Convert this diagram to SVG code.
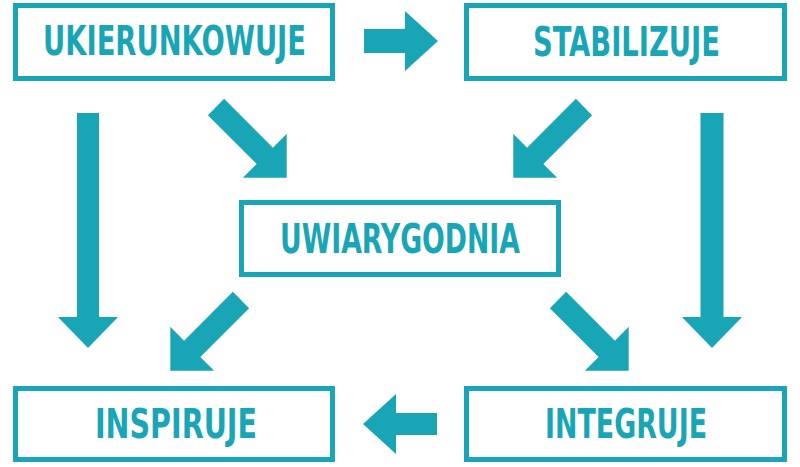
<svg xmlns="http://www.w3.org/2000/svg" width="800" height="467" viewBox="0 0 800 467">
<style>
.box{fill:#ffffff;stroke:#18a6b6;stroke-width:5}
.lbl{fill:#18a6b6;font-family:"DejaVu Sans Condensed","DejaVu Sans","Liberation Sans",sans-serif;font-weight:bold;font-size:40px;text-anchor:middle}
.arr{fill:#18a6b6}
</style>
<rect width="800" height="467" fill="#ffffff"/>
<g id="connectors">
<polygon class="arr" points="364,29 405,29 405,11 438,41 405,71 405,53 364,53"/>
<polygon class="arr" points="77,113 99,113 99,317 118,317 88,348 58,317 77,317"/>
<polygon class="arr" points="700.5,113 723.5,113 723.5,317 742,317 712,348 682,317 700.5,317"/>
<polygon class="arr" points="437,413 396,413 396,394 363,424 396,454 396,435 437,435"/>
<polygon class="arr" points="0,-11.5 69,-11.5 69,-31 100,0 69,31 69,11.5 0,11.5" transform="translate(216,107) rotate(45)"/>
<polygon class="arr" points="0,-11.5 69,-11.5 69,-31 100,0 69,31 69,11.5 0,11.5" transform="translate(584,107) rotate(135)"/>
<polygon class="arr" points="0,-11.5 69,-11.5 69,-31 100,0 69,31 69,11.5 0,11.5" transform="translate(241,300) rotate(135)"/>
<polygon class="arr" points="0,-11.5 69,-11.5 69,-31 100,0 69,31 69,11.5 0,11.5" transform="translate(558,300) rotate(45)"/>
</g>
<g id="ukierunkowuje">
<rect class="box" x="15.5" y="5.5" width="317" height="73"/>
<text class="lbl" x="174.5" y="55" textLength="263" lengthAdjust="spacingAndGlyphs">UKIERUNKOWUJE</text>
</g>
<g id="stabilizuje">
<rect class="box" x="466.5" y="5.5" width="318" height="73"/>
<text class="lbl" x="626.5" y="56" textLength="187" lengthAdjust="spacingAndGlyphs">STABILIZUJE</text>
</g>
<g id="uwiarygodnia">
<rect class="box" x="241.5" y="202.5" width="317" height="72"/>
<text class="lbl" x="400" y="253" textLength="240" lengthAdjust="spacingAndGlyphs">UWIARYGODNIA</text>
</g>
<g id="inspiruje">
<rect class="box" x="15.5" y="388.5" width="317" height="71"/>
<text class="lbl" x="176" y="438" textLength="162" lengthAdjust="spacingAndGlyphs">INSPIRUJE</text>
</g>
<g id="integruje">
<rect class="box" x="466.5" y="388.5" width="318" height="71"/>
<text class="lbl" x="626" y="438" textLength="162" lengthAdjust="spacingAndGlyphs">INTEGRUJE</text>
</g>
</svg>
